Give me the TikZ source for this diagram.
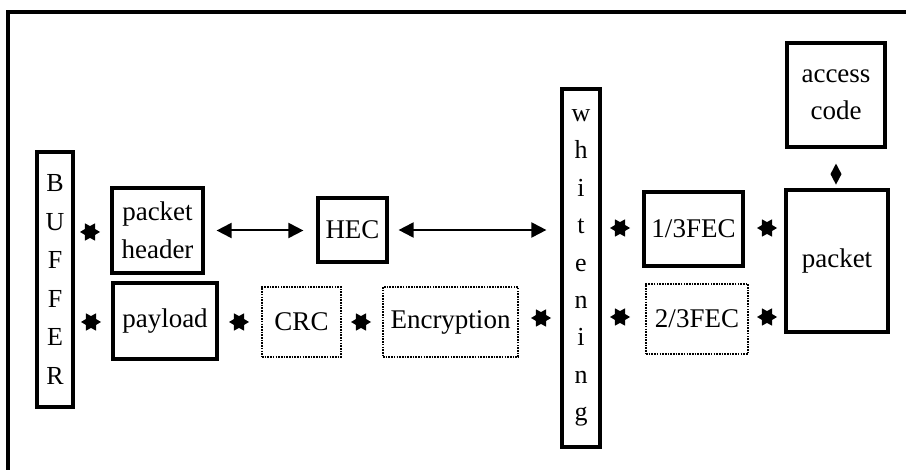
\documentclass[tikz,border=0pt]{standalone}
\usepackage{fontspec}
\setmainfont{Liberation Serif}
\usetikzlibrary{shapes.geometric,arrows.meta}
\begin{document}
\begin{tikzpicture}[x=1pt,y=-1pt,
  box/.style={draw, line width=3.2pt, inner sep=0pt, align=center,
    font=\fontsize{27}{38}\selectfont},
  dbox/.style={box, line width=1.8pt, dash pattern=on 1.6pt off 1.1pt},
  hexstar/.style={star, star points=6, star point ratio=1.7, fill=black,
    draw=none, minimum size=20pt, inner sep=0pt, shape border rotate=30},
  link/.style={line width=2pt, {Triangle[length=15pt,width=15pt]}-{Triangle[length=15pt,width=15pt]}}]
\useasboundingbox (0,0) rectangle (906,470);
\clip (0,0) rectangle (906,470);
\fill[white] (0,0) rectangle (906,470);

% outer frame (runs off the right and bottom edges)
\draw[line width=3.5pt] (8,490) -- (8,12) -- (930,12);

% blocks
\node[box, minimum width=36pt, minimum height=255pt, font=\fontsize{26}{38.6}\selectfont]
  (buffer) at (55,279.5) {B\\U\\F\\F\\E\\R};
\node[box, minimum width=91pt, minimum height=85pt] (pheader) at (157.5,230.5) {packet\\header};
\node[box, minimum width=104pt, minimum height=76pt] (payload) at (165,321) {payload};
\node[box, minimum width=69pt, minimum height=64pt] (hec) at (352.5,230) {HEC};
\node[dbox, minimum width=79pt, minimum height=70pt] (crc) at (301.5,322) {CRC};
\node[dbox, minimum width=135pt, minimum height=70pt] (enc) at (450.5,322) {Encryption};
\node[box, minimum width=38pt, minimum height=358pt, font=\fontsize{26}{37.4}\selectfont]
  (white) at (581,268) {w\\h\\i\\t\\e\\n\\i\\n\\g};
\node[box, minimum width=99pt, minimum height=74pt] (fec13) at (693.5,229) {1/3FEC};
\node[dbox, minimum width=102pt, minimum height=70pt] (fec23) at (697,319) {2/3FEC};
\node[box, minimum width=102pt, minimum height=142pt] (packet) at (837,261) {packet};
\node[box, minimum width=98pt, minimum height=104pt, font=\fontsize{27}{37}\selectfont]
  (access) at (836,95) {access\\code};

% star markers between blocks
\node[hexstar] (s1) at (90,232) {};
\node[hexstar] (s2) at (91,322) {};
\node[hexstar] (s3) at (239,322) {};
\node[hexstar] (s4) at (361,322) {};
\node[hexstar] (s5) at (541,318) {};
\node[hexstar] (s6) at (620,228) {};
\node[hexstar] (s7) at (767,228) {};
\node[hexstar] (s8) at (620,317) {};
\node[hexstar] (s9) at (767,317) {};

% connectors
\draw[link, shorten <=12pt, shorten >=13pt] (pheader.east) -- (pheader.east -| hec.west);
\draw[link, shorten <=10pt, shorten >=14pt] (hec.east) -- (hec.east -| white.west);
% double-headed link between access code and packet: two tips meeting
\fill (access.south) ++(0,15) -- ++(5.5,10.5) -- ++(-5.5,10.5) -- ++(-5.5,-10.5) -- cycle;
\end{tikzpicture}
\end{document}
